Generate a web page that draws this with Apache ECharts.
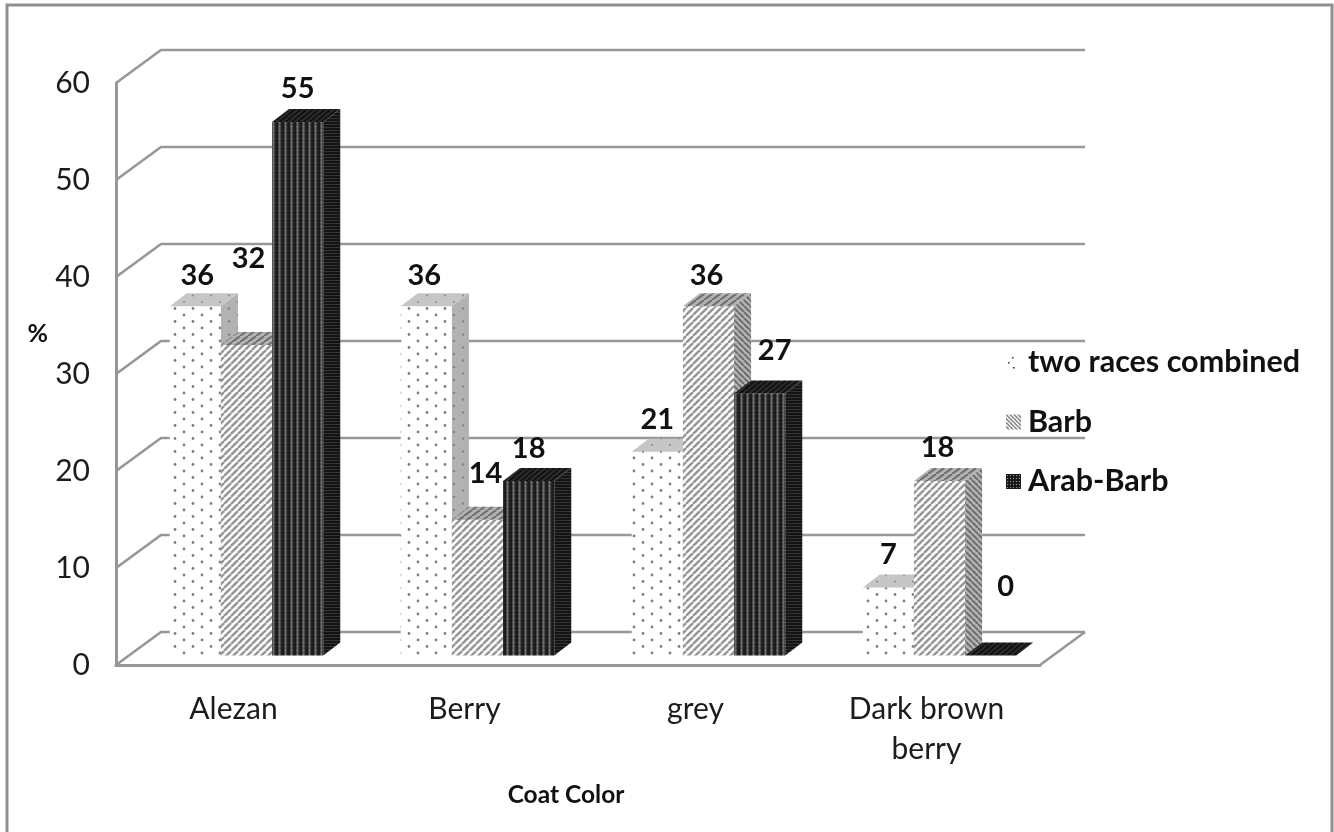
<!DOCTYPE html>
<html>
<head>
<meta charset="utf-8">
<style>html,body{margin:0;padding:0;background:#fff}#c{width:1334px;height:832px;filter:blur(0.45px)}</style>
<script src="https://cdn.jsdelivr.net/npm/echarts@6/dist/echarts.min.js"></script>
</head>
<body>
<div id="c"></div>
<script>
const categories = ['Alezan', 'Berry', 'grey', 'Dark brown\nberry'];
const seriesNames = ['two races combined', 'Barb', 'Arab-Barb'];
const valuesCombined = [36, 36, 21, 7];
const valuesBarb = [32, 14, 36, 18];
const valuesArabBarb = [55, 18, 27, 0];
const valueTicks = [0, 10, 20, 30, 40, 50, 60];

/* Excel nudged some data labels by hand: offset from the top-centre of the bar face */
const labelNudges = [
  [[2, -31], [-2, -31], [0, -32], [0, -33]],
  [[2, -86], [8, -46], [-2, -31], [-2, -33]],
  [[0, -33], [0, -32], [15, -43], [15, -69]]
];

function tile(w, h, draw) {
  const c = document.createElement('canvas');
  c.width = w; c.height = h;
  draw(c.getContext('2d'), w, h);
  return { image: c, repeat: 'repeat' };
}
function dots(bg, fg, r) {
  return tile(18, 13, (g, w, h) => {
    g.fillStyle = bg; g.fillRect(0, 0, w, h);
    g.fillStyle = fg;
    [[4, 3], [13, 9.5]].forEach(p => { g.beginPath(); g.arc(p[0], p[1], r, 0, 7); g.fill(); });
  });
}
function stripes(w, h, bg, fg, lw, rising) {
  return tile(w, h, (g) => {
    g.fillStyle = bg; g.fillRect(0, 0, w, h);
    g.strokeStyle = fg; g.lineWidth = lw;
    [-1, 0, 1].forEach(k => {
      g.beginPath();
      if (rising) { g.moveTo(k * w, h); g.lineTo(k * w + w, 0); }
      else { g.moveTo(k * w, 0); g.lineTo(k * w + w, h); }
      g.stroke();
    });
  });
}
const arabFront = tile(6, 4, (g, w, h) => {
  const cols = ['#1e1e1e', '#1a1a1a', '#444', '#666', '#444', '#222'];
  cols.forEach((col, i) => { g.fillStyle = col; g.fillRect(i, 0, 1, h); });
  g.fillStyle = 'rgba(255,255,255,0.12)'; g.fillRect(2, 2, 3, 1);
});
const arabSide = tile(4, 3, (g, w, h) => {
  g.fillStyle = '#141414'; g.fillRect(0, 0, w, h);
  g.fillStyle = '#333'; g.fillRect(0, 1, w, 1);
});
const faces = [
  { front: dots('#ffffff', '#808080', 1.4), side: dots('#b2b2b2', '#868686', 1.3), top: dots('#c6c6c6', '#8f8f8f', 1.1) },
  { front: stripes(7, 7, '#fbfbfb', '#969696', 2.4, true), side: stripes(6, 6, '#b4b4b4', '#6e6e6e', 2.0, false), top: stripes(8, 6, '#b4b4b4', '#717171', 2.2, true) },
  { front: arabFront, side: arabSide, top: stripes(6, 5, '#2a2a2a', '#0e0e0e', 1.6, true) }
];
const legendIcons = [
  tile(15, 15, (g) => { g.fillStyle = '#fff'; g.fillRect(0, 0, 15, 15); g.fillStyle = '#444';
    [[6, 2], [2, 7], [7, 12]].forEach(p => g.fillRect(p[0], p[1], 1.6, 1.6)); }),
  stripes(4, 4, '#fff', '#555', 1.2, false),
  tile(3, 3, (g) => { g.fillStyle = '#1a1a1a'; g.fillRect(0, 0, 3, 3); g.fillStyle = '#999'; g.fillRect(1, 1, 1, 1); })
];

const wallDepth = [45, -33];
const barShift = [15, -9.5];
const barDepth = [17, -13];
const gridColor = '#979797';
const inkColor = '#1c1c1c';

function wallItem(params, api) {
  const v = api.value(1);
  const y = api.coord([0, v])[1];
  const x0 = params.coordSys.x, x1 = x0 + params.coordSys.width;
  const style = { stroke: gridColor, lineWidth: 2.6, fill: null };
  const kids = [{ type: 'polyline', shape: { points: [[x0, y], [x0 + wallDepth[0], y + wallDepth[1]], [x1 + wallDepth[0], y + wallDepth[1]]] }, style }];
  if (v === 0) kids.push({ type: 'line', shape: { x1: x1, y1: y, x2: x1 + wallDepth[0], y2: y + wallDepth[1] }, style });
  return { type: 'group', silent: true, children: kids };
}

function barItem(s) {
  return function (params, api) {
    const i = api.value(0), v = api.value(1);
    const band = api.size([1, 0])[0];
    const w = band * 0.2215;
    const top = api.coord([i, v]), base = api.coord([i, 0]);
    const xl = top[0] + barShift[0] + (s - 1.5) * w;
    const xr = xl + w;
    const yt = top[1] + barShift[1], yb = base[1] + barShift[1];
    const dx = barDepth[0], dy = barDepth[1];
    const f = faces[s];
    const kids = [];
    if (yb - yt > 0) {
      kids.push({ type: 'polygon', shape: { points: [[xl, yt], [xr, yt], [xr, yb], [xl, yb]] }, style: { fill: f.front } });
      kids.push({ type: 'polygon', shape: { points: [[xr, yt], [xr + dx, yt + dy], [xr + dx, yb + dy], [xr, yb]] }, style: { fill: f.side } });
    }
    kids.push({ type: 'polygon', shape: { points: [[xl, yt], [xr, yt], [xr + dx, yt + dy], [xl + dx, yt + dy]] }, style: { fill: f.top } });
    const n = labelNudges[s][i];
    kids.push({
      type: 'text', z2: 50,
      style: { text: String(v), x: (xl + xr) / 2 + n[0], y: yt + n[1], align: 'center', verticalAlign: 'middle',
        font: 'bold 29px Lato', fill: '#111' }
    });
    return { type: 'group', children: kids };
  };
}

const valueLists = [valuesCombined, valuesBarb, valuesArabBarb];
const chart = echarts.init(document.getElementById('c'), null, { renderer: 'canvas' });
chart.setOption({
  animation: false,
  backgroundColor: '#ffffff',
  grid: { left: 116, top: 83, width: 924, height: 582, containLabel: false },
  xAxis: {
    type: 'category', data: categories,
    name: 'Coat Color', nameLocation: 'middle', nameGap: 118,
    nameTextStyle: { fontFamily: 'Lato', fontWeight: 'bold', fontSize: 24.5, color: '#111', padding: [0, 24, 0, 0] },
    axisLine: { show: true, lineStyle: { color: gridColor, width: 3 } },
    axisTick: { show: false },
    axisLabel: { fontFamily: 'Lato', fontSize: 30, color: inkColor, margin: 24, lineHeight: 40, interval: 0, verticalAlign: 'top', padding: [0, 0, 0, 4] },
    splitLine: { show: false }
  },
  yAxis: {
    type: 'value', min: 0, max: 60, interval: 10,
    name: '%\n\n', nameLocation: 'middle', nameRotate: 0, nameGap: 68,
    nameTextStyle: { fontFamily: 'Lato', fontWeight: 'bold', fontSize: 25, color: '#111', lineHeight: 40 },
    axisLine: { show: true, lineStyle: { color: gridColor, width: 3 } },
    axisTick: { show: false },
    axisLabel: { fontFamily: 'Lato', fontSize: 30, color: inkColor, margin: 26 },
    splitLine: { show: false }
  },
  legend: {
    orient: 'vertical', left: 1001, top: 342, itemWidth: 15, itemHeight: 15, itemGap: 28.5, icon: 'rect',
    selectedMode: false,
    textStyle: { fontFamily: 'Lato', fontWeight: 'bold', fontSize: 30.5, color: '#111', padding: [0, 0, 0, 2] },
    data: seriesNames.map((name, s) => ({ name, itemStyle: { color: legendIcons[s] } }))
  },
  graphic: [{
    type: 'polyline', silent: true, z: -1,
    shape: { points: [[7, 832], [7, 5], [1332, 5], [1332, 832]] },
    style: { stroke: '#8f8f8f', lineWidth: 3, fill: null }
  }],
  series: [
    { type: 'custom', name: 'walls', z: 1, silent: true, renderItem: wallItem, clip: false,
      data: valueTicks.map(v => [0, v]), encode: { x: 0, y: 1 } }
  ].concat(seriesNames.map((name, s) => ({
    type: 'custom', name, z: 3, renderItem: barItem(s), clip: false,
    itemStyle: { color: faces[s].front },
    data: valueLists[s].map((v, i) => [i, v]), encode: { x: 0, y: 1 }
  })))
});
</script>
</body>
</html>
